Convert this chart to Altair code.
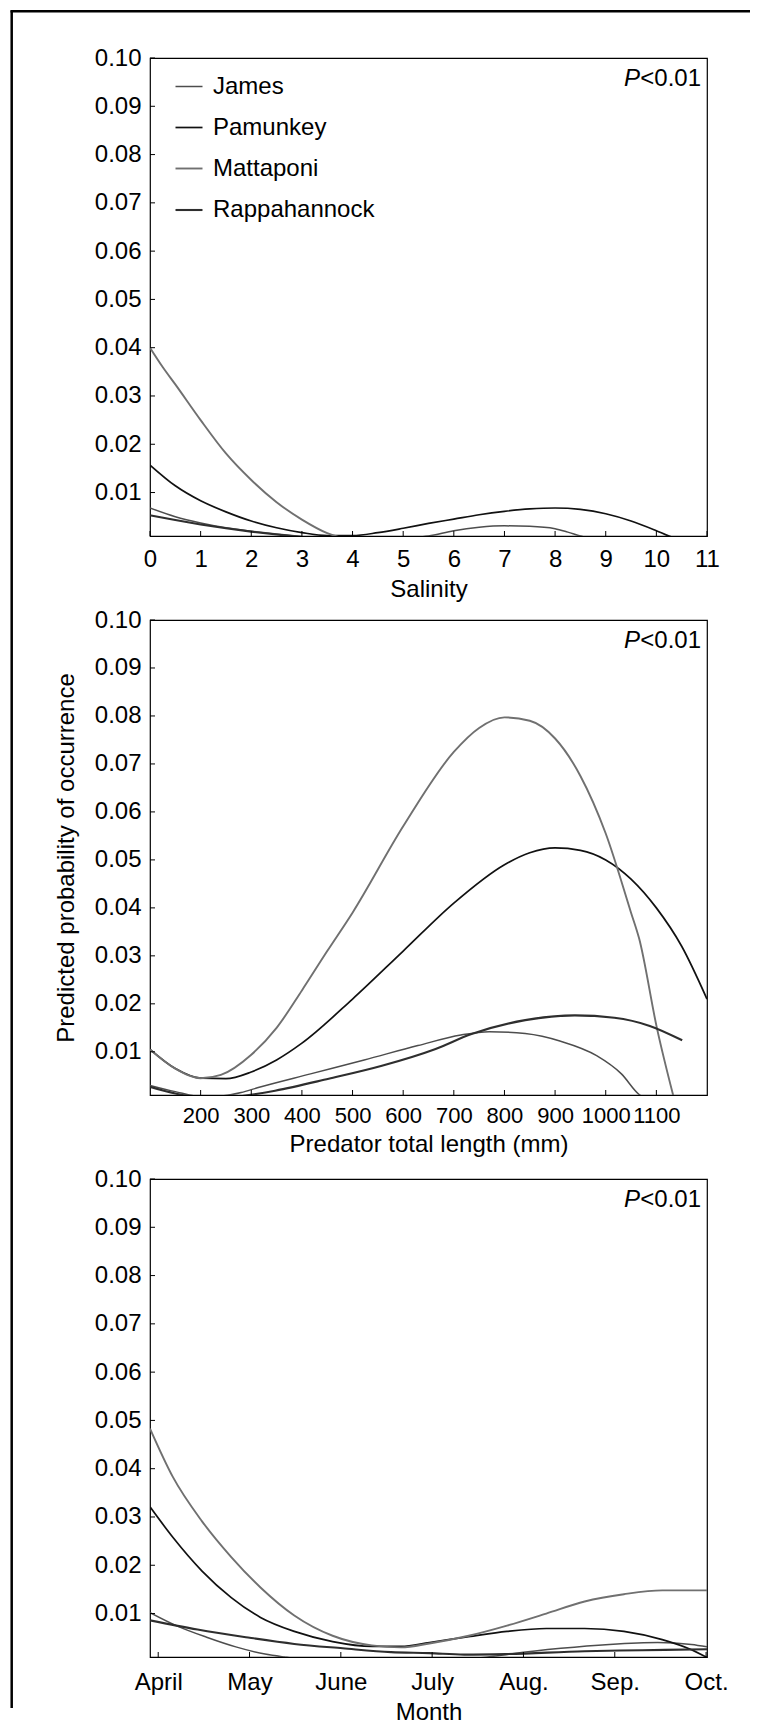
import altair as alt
import pandas as pd

FONT = "Liberation Sans"
FS = 24

SERIES = ["James", "Pamunkey", "Mattaponi", "Rappahannock"]
COLORS = ["#4d4d4d", "#111111", "#707070", "#2e2e2e"]
WIDTHS = [1.5, 2.1, 1.5, 1.7]

# ---------- Panel 1: Salinity ----------
SAL_JAMES_X = [0, 0.5, 1.0, 1.5, 2.0, 2.5, 3.0, 3.5, 4.0, 4.5, 5.0, 5.5, 6.0, 6.5, 7.0, 7.5, 8.0, 8.25, 8.5, 8.8]
SAL_JAMES_Y = [0.0068, 0.0050, 0.0037, 0.0027, 0.0020, 0.0014, 0.0009, 0.0005, 0.0003, 0.0003, 0.0005, 0.0010,
               0.0021, 0.0028, 0.0031, 0.0030, 0.0025, 0.0018, 0.0010, 0.0002]
SAL_PAM_X = [0, 0.5, 1.0, 1.5, 2.0, 2.5, 3.0, 3.5, 4.0, 4.5, 5.0, 5.5, 6.0, 6.5, 7.0, 7.5, 8.0, 8.5, 9.0, 9.5, 10.0, 10.3, 10.6]
SAL_PAM_Y = [0.0157, 0.0114, 0.0083, 0.0060, 0.0041, 0.0027, 0.0017, 0.0011, 0.0011, 0.0017, 0.0026, 0.0036,
             0.0045, 0.0054, 0.0061, 0.0066, 0.0068, 0.0065, 0.0056, 0.0041, 0.0021, 0.0008, 0.0002]
SAL_MAT_X = [0, 0.25, 0.5, 1.0, 1.5, 2.0, 2.5, 3.0, 3.5, 3.8, 4.0]
SAL_MAT_Y = [0.0400, 0.0360, 0.0324, 0.0250, 0.0181, 0.0126, 0.0080, 0.0044, 0.0016, 0.0006, 0.0002]
SAL_RAP_X = [0, 0.5, 1.0, 1.5, 2.0, 2.5, 3.0, 3.5, 4.0]
SAL_RAP_Y = [0.0053, 0.0043, 0.0034, 0.0026, 0.0019, 0.0013, 0.0008, 0.0004, 0.0002]

# ---------- Panel 2: Predator total length ----------
LEN_JAMES_X = [100, 150, 200, 240, 280, 312, 417, 523, 629, 714, 770, 841, 911, 982, 1031, 1066, 1080]
LEN_JAMES_Y = [0.0030, 0.0017, 0.0007, 0.0008, 0.0015, 0.0025, 0.0054, 0.0083, 0.0113, 0.0135, 0.0142,
               0.0138, 0.0122, 0.0092, 0.0054, 0.0011, 0.0002]
LEN_PAM_X = [100, 150, 200, 250, 300, 350, 400, 500, 600, 700, 800, 850, 900, 950, 1000, 1050, 1100, 1150, 1200]
LEN_PAM_Y = [0.0105, 0.0065, 0.0045, 0.0044, 0.0058, 0.0083, 0.0118, 0.0210, 0.0310, 0.0410, 0.0490, 0.0515,
             0.0525, 0.0520, 0.0500, 0.0460, 0.0400, 0.0320, 0.0210]
LEN_MAT_X = [100, 150, 200, 240, 300, 350, 400, 450, 500, 600, 700, 750, 800, 850, 900, 950, 1000, 1050, 1066,
             1101, 1135]
LEN_MAT_Y = [0.0105, 0.0065, 0.0045, 0.0052, 0.0094, 0.0150, 0.0228, 0.0310, 0.0390, 0.0570, 0.0725, 0.0775,
             0.0797, 0.0790, 0.0753, 0.0675, 0.0555, 0.0390, 0.0336, 0.0150, 0.0002]
LEN_RAP_X = [100, 150, 200, 250, 276, 347, 453, 558, 664, 735, 841, 939, 1017, 1087, 1151]
LEN_RAP_Y = [0.0027, 0.0013, 0.0005, 0.0004, 0.0007, 0.0019, 0.0044, 0.0071, 0.0106, 0.0137, 0.0166, 0.0176,
             0.0171, 0.0154, 0.0124]

# ---------- Panel 3: Month (4 = April ... 10 = October) ----------
MON_JAMES_X = [3.91, 4.21, 4.53, 4.85, 5.17, 5.38, 5.6, 6.0, 6.5, 7.0, 7.4, 7.65, 7.88, 8.41, 8.94, 9.47, 9.84, 10.01]
MON_JAMES_Y = [0.0102, 0.0074, 0.0051, 0.0031, 0.0016, 0.0010, 0.0005, 0.0002, 0.0001, 0.0002, 0.0006, 0.0011,
               0.0017, 0.0028, 0.0036, 0.0040, 0.0036, 0.0031]
MON_PAM_X = [3.91, 4.16, 4.48, 4.80, 5.12, 5.49, 5.91, 6.34, 6.66, 6.97, 7.40, 7.82, 8.25, 8.67, 9.10, 9.52, 9.84, 10.01]
MON_PAM_Y = [0.0321, 0.0258, 0.0188, 0.0133, 0.0092, 0.0063, 0.0042, 0.0032, 0.0032, 0.0040, 0.0052, 0.0063,
             0.0069, 0.0069, 0.0063, 0.0046, 0.0025, 0.0009]
MON_MAT_X = [3.91, 4.16, 4.48, 4.80, 5.12, 5.49, 5.91, 6.34, 6.66, 6.97, 7.40, 7.82, 8.25, 8.67, 9.10, 9.52, 10.01]
MON_MAT_Y = [0.0483, 0.0383, 0.0291, 0.0217, 0.0154, 0.0096, 0.0054, 0.0034, 0.0030, 0.0038, 0.0054, 0.0075,
             0.0100, 0.0125, 0.0140, 0.0148, 0.0148]
MON_RAP_X = [3.91, 4.43, 4.96, 5.49, 6.02, 6.55, 6.97, 7.35, 7.8, 8.67, 9.3, 10.01]
MON_RAP_Y = [0.0086, 0.0067, 0.0051, 0.0037, 0.0028, 0.0020, 0.0018, 0.0015, 0.0016, 0.0022, 0.0024, 0.0026]

# ---------- axes ----------
Y_TICKS = [0.01, 0.02, 0.03, 0.04, 0.05, 0.06, 0.07, 0.08, 0.09, 0.10]
Y_DOMAIN = [0.001, 0.1]
SAL_TICKS = [0, 1, 2, 3, 4, 5, 6, 7, 8, 9, 10, 11]
LEN_TICKS = [200, 300, 400, 500, 600, 700, 800, 900, 1000, 1100]
MON_TICKS = [4, 5, 6, 7, 8, 9, 10]
MON_LABELS = ["April", "May", "June", "July", "Aug.", "Sep.", "Oct."]

W = 557
H1, H2, H3 = 478, 475, 478
VIEW = alt.ViewBackground(stroke="black", strokeWidth=1.2, fill="white")


def make_df(xs_list, ys_list):
    rows = []
    for name, xs, ys in zip(SERIES, xs_list, ys_list):
        for xv, yv in zip(xs, ys):
            rows.append({"river": name, "x": xv, "y": yv})
    return pd.DataFrame(rows)


sal_df = make_df([SAL_JAMES_X, SAL_PAM_X, SAL_MAT_X, SAL_RAP_X], [SAL_JAMES_Y, SAL_PAM_Y, SAL_MAT_Y, SAL_RAP_Y])
len_df = make_df([LEN_JAMES_X, LEN_PAM_X, LEN_MAT_X, LEN_RAP_X], [LEN_JAMES_Y, LEN_PAM_Y, LEN_MAT_Y, LEN_RAP_Y])
mon_df = make_df([MON_JAMES_X, MON_PAM_X, MON_MAT_X, MON_RAP_X], [MON_JAMES_Y, MON_PAM_Y, MON_MAT_Y, MON_RAP_Y])

month_expr = "{" + ",".join(f"'{m}':'{l}'" for m, l in zip(MON_TICKS, MON_LABELS)) + "}[datum.value]"


def panel(df, x_title, x_domain, x_ticks, height, y_title="", label_expr=None, legend=False,
          label_pad=13, title_pad=8, frame=False, xlabel_size=FS):
    yscale = alt.Scale(domain=Y_DOMAIN, nice=False, zero=False)
    xscale = alt.Scale(domain=x_domain, nice=False, zero=False)
    xaxis_kw = dict(values=x_ticks, title=x_title, ticks=False, domain=False, grid=False, format="d",
                    labelPadding=label_pad, titlePadding=title_pad, labelFlush=False, labelOverlap=False,
                    labelFontSize=xlabel_size)
    if label_expr:
        xaxis_kw["labelExpr"] = label_expr
    yaxis_kw = dict(values=Y_TICKS, format=".2f", ticks=False, domain=False, grid=False,
                    labelPadding=9, titlePadding=16, labelFlush=False, labelOverlap=False)
    if y_title:
        yaxis_kw["title"] = y_title
    else:
        yaxis_kw["title"] = None
    color_kw = dict(scale=alt.Scale(domain=SERIES, range=COLORS), sort=SERIES)
    if legend:
        color_kw["legend"] = alt.Legend(orient="none", legendX=24, legendY=14, title=None, symbolType="stroke",
                                        symbolSize=729, symbolStrokeWidth=1.6, labelFont=FONT, labelFontSize=FS,
                                        labelColor="black", labelOffset=9, rowPadding=14, padding=0,
                                        labelLimit=400)
    else:
        color_kw["legend"] = None
    lines = alt.Chart(df).mark_line(clip=True, interpolate="monotone").encode(
        x=alt.X("x:Q", scale=xscale, axis=alt.Axis(**xaxis_kw)),
        y=alt.Y("y:Q", scale=yscale, axis=alt.Axis(**yaxis_kw)),
        color=alt.Color("river:N", **color_kw),
        strokeWidth=alt.StrokeWidth("river:N", scale=alt.Scale(domain=SERIES, range=WIDTHS), legend=None),
    )
    ytick = alt.Chart(pd.DataFrame({"y": Y_TICKS})).mark_rule(color="black", strokeWidth=1).encode(
        y=alt.Y("y:Q", scale=yscale), x=alt.value(0), x2=alt.value(5))
    xtick = alt.Chart(pd.DataFrame({"x": x_ticks})).mark_rule(color="black", strokeWidth=1).encode(
        x=alt.X("x:Q", scale=xscale), y=alt.value(height), y2=alt.value(height - 5))
    one = pd.DataFrame({"a": [0]})
    p_it = alt.Chart(one).mark_text(text="P", font=FONT, fontSize=FS, fontStyle="italic", align="right",
                                     baseline="middle", color="black").encode(x=alt.value(490), y=alt.value(21))
    p_rest = alt.Chart(one).mark_text(text="<0.01", font=FONT, fontSize=FS, align="right",
                                       baseline="middle", color="black").encode(x=alt.value(551), y=alt.value(21))
    layers = [lines, ytick, xtick, p_it, p_rest]
    if frame:
        fl = alt.Chart(one).mark_rule(color="black", strokeWidth=2.5).encode(
            x=alt.value(-138.3), y=alt.value(-47.5), y2=alt.value(1650))
        ft = alt.Chart(one).mark_rule(color="black", strokeWidth=2.5).encode(
            x=alt.value(-139.5), x2=alt.value(600), y=alt.value(-46.7))
        layers += [fl, ft]
    return alt.layer(*layers).properties(width=W, height=height, view=VIEW)


p1 = panel(sal_df, "Salinity", [0, 11], SAL_TICKS, H1, legend=True, label_pad=11, title_pad=6, frame=True)
p2 = panel(len_df, "Predator total length (mm)", [100, 1200], LEN_TICKS, H2,
           y_title="Predicted probability of occurrence", label_pad=10, title_pad=6, xlabel_size=22)
p3 = panel(mon_df, "Month", [3.91, 10.01], MON_TICKS, H3, label_expr=month_expr, label_pad=13, title_pad=6)

chart = alt.vconcat(p1, p2, p3, spacing=84, bounds="flush").resolve_scale(
    color="independent", strokeWidth="independent"
).properties(
    padding={"left": 0, "top": 0, "right": 0, "bottom": 0},
    background="white",
).configure_view(
    stroke="black", strokeWidth=1.2
).configure_axis(
    labelFont=FONT, labelFontSize=FS, labelColor="black",
    titleFont=FONT, titleFontSize=FS, titleColor="black", titleFontWeight="normal"
)

chart.save("out.html", embed_options={"renderer": "svg", "actions": False})
